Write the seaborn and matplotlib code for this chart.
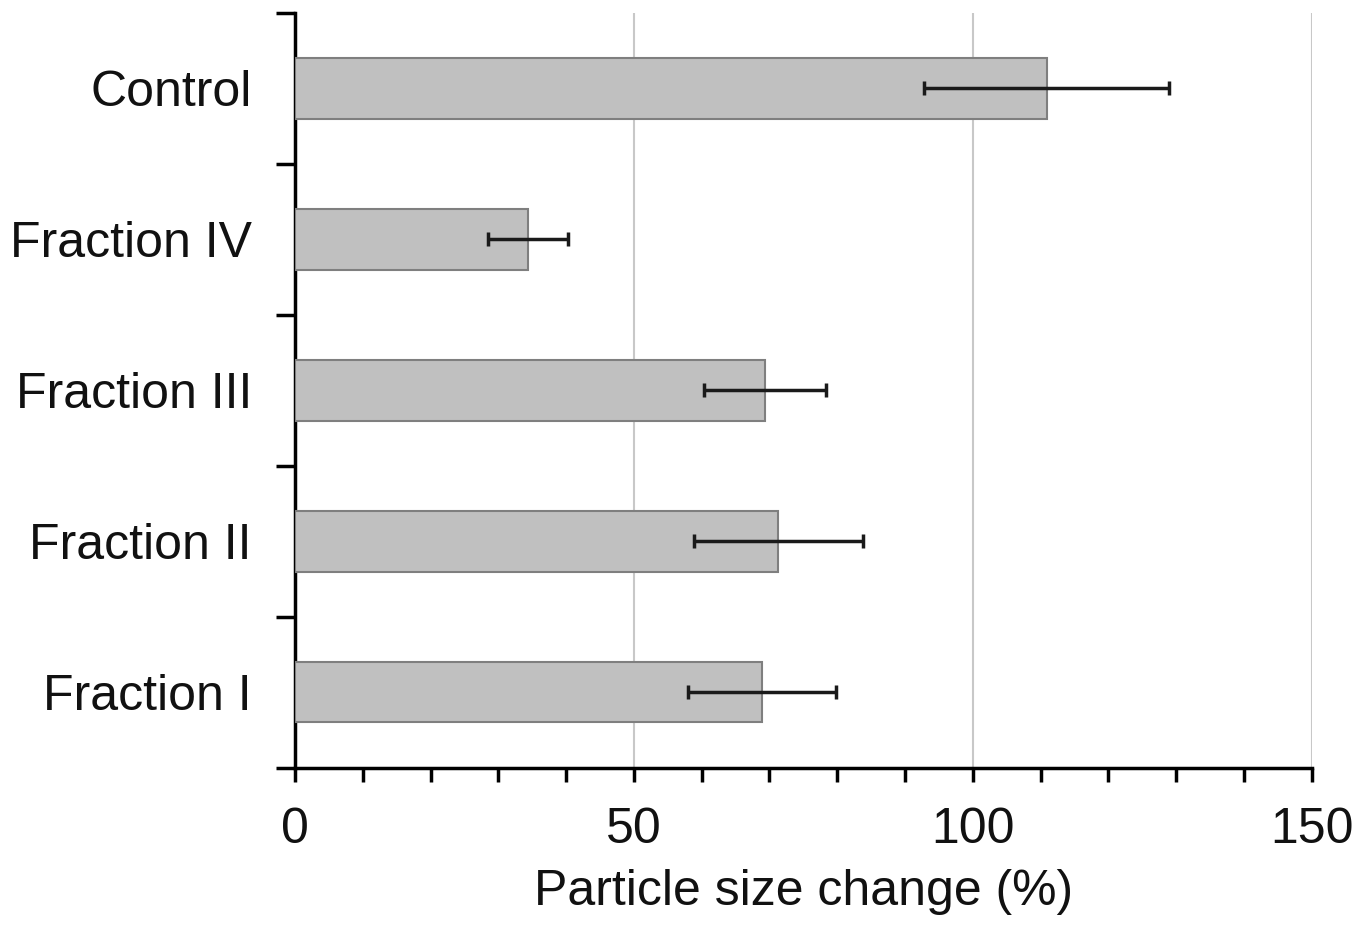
import matplotlib

matplotlib.use("Agg")
import matplotlib.pyplot as plt
import numpy as np
import pandas as pd
import seaborn as sns
from matplotlib.ticker import MultipleLocator, FixedLocator

categories = ["Control", "Fraction IV", "Fraction III", "Fraction II", "Fraction I"]
size_change = [110.9, 34.4, 69.3, 71.3, 68.9]
error = [18.1, 5.9, 9.0, 12.5, 10.9]

df = pd.DataFrame({"group": categories, "change": size_change, "err": error})

sns.set_style("white")
plt.rcParams["font.family"] = ["Liberation Sans", "DejaVu Sans"]
plt.rcParams["text.color"] = "#111111"
plt.rcParams["xtick.labelcolor"] = "#111111"
plt.rcParams["ytick.labelcolor"] = "#111111"
plt.rcParams["axes.labelcolor"] = "#111111"

fig = plt.figure(figsize=(13.72, 9.25), dpi=100)
ax = fig.add_axes([0.215, 0.170, 0.741, 0.816])

sns.barplot(
    data=df, y="group", x="change", order=categories, orient="h",
    color="#c0c0c0", saturation=1, width=0.4, edgecolor="#7f7f7f",
    linewidth=1.5, errorbar=None, ax=ax, zorder=3,
)
ax.errorbar(
    df["change"], np.arange(len(df)), xerr=df["err"], fmt="none",
    ecolor="#1a1a1a", elinewidth=2.5, capsize=5, capthick=2.5, zorder=4,
)

ax.set_xlim(0, 150)
ax.set_ylim(4.5, -0.5)
ax.xaxis.set_major_locator(MultipleLocator(50))
ax.xaxis.set_minor_locator(MultipleLocator(10))
ax.grid(axis="x", color="#c8c8c8", linewidth=1.5, zorder=0)
ax.set_axisbelow(True)

ax.yaxis.set_minor_locator(FixedLocator(np.arange(-0.5, 5.0, 1.0)))
ax.tick_params(axis="y", which="major", length=0, pad=31, labelsize=36)
ax.tick_params(axis="y", which="minor", length=14, width=2.5, color="black", direction="out", left=True)
ax.tick_params(axis="x", which="both", length=10, width=2.5, color="black", direction="out", bottom=True, labelsize=36, pad=18)

for side in ["top", "right"]:
    ax.spines[side].set_visible(False)
for side in ["left", "bottom"]:
    ax.spines[side].set_color("black")
    ax.spines[side].set_linewidth(2.5)

ax.set_ylabel("")
ax.set_xlabel("Particle size change (%)", fontsize=36, labelpad=12)

fig.savefig("out.png", dpi=100)
